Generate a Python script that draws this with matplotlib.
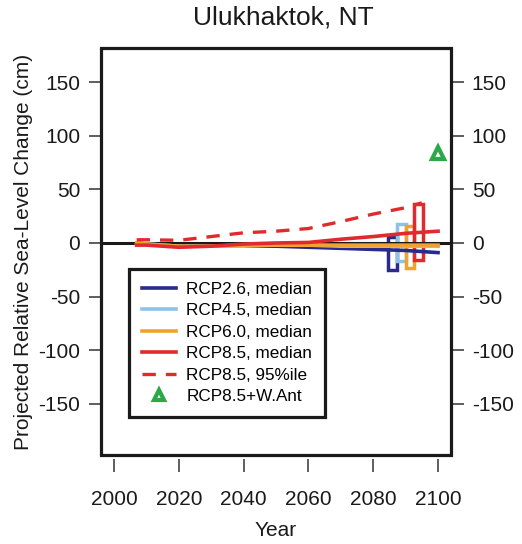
"""
Projected relative sea-level change at Ulukhaktok, NT
"""

import matplotlib
matplotlib.use("Agg")
import matplotlib.pyplot as plt
from matplotlib.patches import Rectangle

plt.rcParams['font.family'] = ['Liberation Sans', 'DejaVu Sans']
plt.rcParams['axes.unicode_minus'] = False

# median / 95th percentile trajectories (cm)
years = [2007, 2010, 2020, 2030, 2040, 2050, 2060, 2070, 2080, 2090, 2100]
rcp26 = [0, -1, -3, -3, -3, -3, -4, -5, -6, -7, -9]
rcp45 = [0, -1, -3, -3, -3, -2, -2, -3, -3, -3, -3]
rcp60 = [0, -1, -3, -3, -2, -2, -2, -2, -2, -2, -2]
rcp85 = [-2, -2, -4, -3, -1, 0, 0.5, 3.5, 6, 9, 11]

years95 = [2007, 2010, 2020, 2030, 2040, 2050, 2060, 2070, 2080, 2090, 2095]
rcp85_95 = [3, 3, 2.5, 6, 9.5, 11, 13.5, 20, 27, 33, 37.5]

# 2100 likely ranges drawn as boxes near the right edge
box_names = ['RCP2.6', 'RCP4.5', 'RCP6.0', 'RCP8.5']
box_x = [2086, 2088.7, 2091.3, 2094]
box_lo = [-25, -17, -23, -16]
box_hi = [6, 18, 16, 36]

# RCP8.5 + West Antarctic collapse
want_year = [2100]
want_val = [84]

colors = {'RCP2.6': '#2a2a8c', 'RCP4.5': '#8ec2e6', 'RCP6.0': '#f2a22c',
          'RCP8.5': '#e12a2d'}
green = '#2ca84a'

fig = plt.figure(figsize=(5.22, 5.44), dpi=100)
ax = fig.add_axes([0.1935, 0.1636, 0.6705, 0.748])

ax.bar(box_x, [h - l for h, l in zip(box_hi, box_lo)], bottom=box_lo,
       width=2.6, fill=False, linewidth=2.5,
       edgecolor=[colors[n] for n in box_names], zorder=2)

ax.axhline(0, color='#1a1a1a', lw=2.2, zorder=2.5)

ax.plot(years, rcp26, color=colors['RCP2.6'], lw=2.6, label='RCP2.6, median', zorder=3)
ax.plot(years, rcp45, color=colors['RCP4.5'], lw=2.6, label='RCP4.5, median', zorder=3)
ax.plot(years, rcp60, color=colors['RCP6.0'], lw=2.6, label='RCP6.0, median', zorder=3)
ax.plot(years, rcp85, color=colors['RCP8.5'], lw=2.6, label='RCP8.5, median', zorder=3)
ax.plot(years95, rcp85_95, color=colors['RCP8.5'], lw=2.4, ls=(0, (4, 3)),
        label='RCP8.5, 95%ile', zorder=3)
ax.plot(want_year, want_val, ls='none', marker='^', ms=9, mfc='white',
        mec=green, mew=3, label='RCP8.5+W.Ant', zorder=4)

ax.set_xlim(1996, 2104)
ax.set_ylim(-198, 182)
ax.set_xticks(range(2000, 2101, 20))
ax.set_yticks(range(-150, 151, 50))

# R-style box with ticks outside; bottom ticks slightly detached
for s in ax.spines.values():
    s.set_visible(False)
ax.spines['bottom'].set_position(('outward', 3))
ax.add_patch(Rectangle((0, 0), 1, 1, transform=ax.transAxes, fill=False,
                       lw=2.3, edgecolor='#1a1a1a', clip_on=False, zorder=5))

ax.tick_params(axis='both', direction='out', length=9, width=1.1,
               color='#333333', labelsize=15, labelcolor='#1a1a1a')
ax.tick_params(axis='y', right=True, labelright=True, pad=6)
ax.tick_params(axis='x', pad=13)

ax.set_xlabel('Year', fontsize=15, color='#1a1a1a', labelpad=9)
ax.set_ylabel('Projected Relative Sea-Level Change (cm)', fontsize=15,
              color='#1a1a1a', labelpad=4)
ax.set_title('Ulukhaktok, NT', fontsize=19, color='#1a1a1a', pad=17, x=0.52)

leg = ax.legend(loc='upper left', bbox_to_anchor=(0.08, 0.457), fontsize=12.3,
                frameon=True, fancybox=False, framealpha=1, handlelength=2.0,
                handletextpad=0.6, labelspacing=0.38, borderpad=0.75,
                borderaxespad=0, markerscale=0.8)
leg.get_frame().set_edgecolor('#1a1a1a')
leg.get_frame().set_linewidth(2.3)
leg.set_zorder(6)

fig.savefig('out.png', dpi=100)
